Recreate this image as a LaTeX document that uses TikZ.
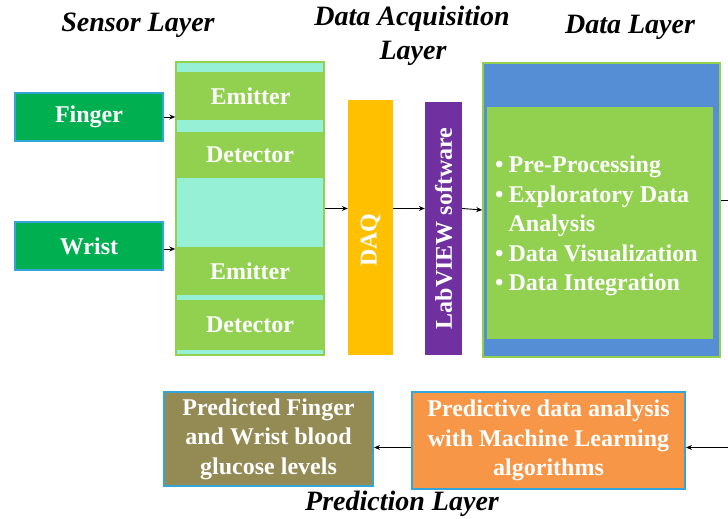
\documentclass[tikz,border=0pt]{standalone}
\usepackage{fontspec}
\setmainfont{Liberation Serif}
\usetikzlibrary{arrows.meta,calc}

\definecolor{sensgreen}{HTML}{00B050}
\definecolor{edgeblue}{HTML}{34A5D8}
\definecolor{paleaqua}{HTML}{96F0D6}
\definecolor{leafgreen}{HTML}{92D050}
\definecolor{daqgold}{HTML}{FFC000}
\definecolor{labpurple}{HTML}{7030A0}
\definecolor{datablue}{HTML}{558ED5}
\definecolor{mlorange}{HTML}{F79646}
\definecolor{olivebox}{HTML}{948A54}

\tikzset{
  box/.style={draw=edgeblue, line width=2pt, inner sep=0pt, font=\fontsize{24}{29.5}\selectfont\bfseries, text=white, align=center},
  band/.style={fill=leafgreen, draw=none, inner sep=0pt, minimum width=148pt, font=\fontsize{24}{29}\selectfont\bfseries, text=white},
  bar/.style={draw=none, inner sep=0pt, font=\fontsize{24}{29}\selectfont\bfseries, text=white},
  layertitle/.style={font=\fontsize{28}{34}\selectfont\bfseries\itshape, text=black, align=center},
  arr/.style={draw=black, line width=0.9pt, -{Stealth[length=6pt,width=5pt]}},
  link/.style={draw=black, line width=0.9pt}
}

\begin{document}
\begin{tikzpicture}[x=1pt, y=-1pt]
  \clip (0,0) rectangle (728,519);
  \fill[white] (0,0) rectangle (728,519);

  % layer titles
  \node[layertitle] (tsensor) at (138,25) {Sensor Layer};
  \node[layertitle] (tacq1) at (412,19) {Data Acquisition};
  \node[layertitle] (tacq2) at (413,53) {Layer};
  \node[layertitle] (tdata) at (630,27) {Data Layer};
  \node[layertitle] (tpred) at (402,504) {Prediction Layer};

  % sensor inputs
  \node[box, fill=sensgreen, minimum width=148pt, minimum height=48pt] (finger) at (89,117) {Finger};
  \node[box, fill=sensgreen, minimum width=148pt, minimum height=48pt] (wrist) at (89,246) {Wrist};

  % sensor column with emitter/detector bands
  \node[fill=paleaqua, draw=leafgreen, line width=1.5pt, inner sep=0pt, minimum width=148pt, minimum height=293pt] (col) at (250,208.5) {};
  \node[band, minimum height=48pt] (em1) at (250.5,96) {Emitter};
  \node[band, minimum height=46pt] (de1) at (250,155) {Detector};
  \node[band, minimum height=48pt] (em2) at (250,271) {Emitter};
  \node[band, minimum height=50pt] (de2) at (250,325) {Detector};

  % acquisition bars
  \node[bar, fill=daqgold, minimum width=45pt, minimum height=255pt] (daq) at (370.5,227.5) {};
  \node[bar, rotate=90] (daqtext) at (370.5,240) {DAQ};
  \node[bar, fill=labpurple, minimum width=37pt, minimum height=253pt] (lab) at (443.5,228.5) {};
  \node[bar, rotate=90] (labtext) at (443.5,228.5) {LabVIEW software};

  % data layer
  \node[fill=datablue, draw=leafgreen, line width=1.5pt, inner sep=0pt, minimum width=237pt, minimum height=294pt] (data) at (601.5,210) {};
  \node[fill=leafgreen, draw=none, inner sep=0pt, minimum width=226pt, minimum height=232pt] (inner) at (600,223) {};
  \node[anchor=north west, inner sep=0pt, text=white, font=\fontsize{24}{29.5}\selectfont\bfseries] (list) at (495,152)
  {\begin{tabular}{@{}l@{\hspace{5pt}}l@{}}
    • & Pre-Processing\\
    • & Exploratory Data\\
      & Analysis\\
    • & Data Visualization\\
    • & Data Integration
  \end{tabular}};

  % prediction layer
  \node[box, fill=mlorange, minimum width=273pt, minimum height=97pt] (ml) at (548.5,440.5)
    {Predictive data analysis\\with Machine Learning\\algorithms};
  \node[box, fill=olivebox, minimum width=209pt, minimum height=94pt] (pred) at (268.5,439)
    {Predicted Finger\\and Wrist blood\\glucose levels};

  % connectors
  \draw[arr] (finger.east) -- (finger.east -| col.west);
  \draw[arr] ([yshift=-3pt]wrist.east) -- ([yshift=-3pt]wrist.east -| col.west);
  \draw[arr] (col.east) -- (col.east -| daq.west);
  \draw[arr] (col.east -| daq.east) -- (col.east -| lab.west);
  \draw[arr] (col.east -| lab.east) -- (data.west);
  \coordinate (turn) at (745,200);
  \draw[link] ([yshift=10pt]data.east) -- (turn);
  \draw[arr] (turn) |- ([yshift=-7pt]ml.east);
  \draw[arr] ([yshift=-7pt]ml.west) -- ([yshift=-7pt]ml.west -| pred.east);
\end{tikzpicture}
\end{document}
